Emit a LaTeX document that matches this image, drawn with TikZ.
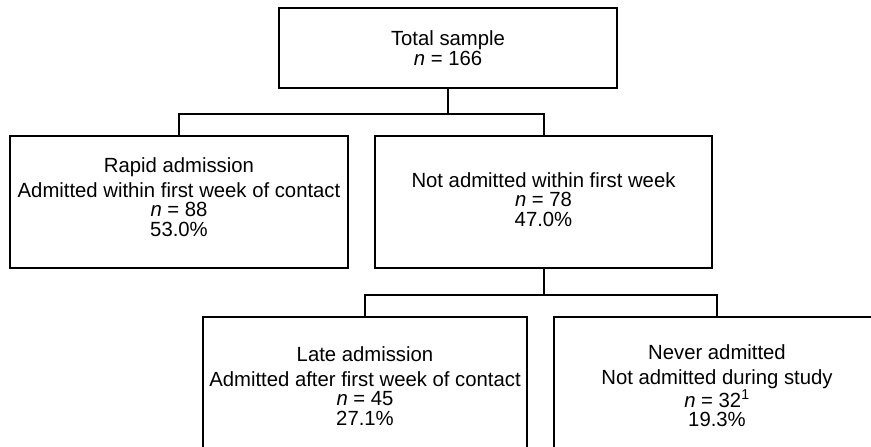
\documentclass[tikz,border=0pt]{standalone}
\usepackage{fontspec}
\setmainfont[FakeStretch=0.99]{Liberation Sans}
\usepackage{tikz}
\usetikzlibrary{positioning}
\tikzstyle{line} = [line width=2pt, color=black]
\tikzstyle{groupbox} = [rectangle, draw=black, line width=2pt, align=center, inner sep=0pt, font=\fontsize{20.5}{19.5}\selectfont]

\begin{document}
\begin{tikzpicture}[x=1pt, y=-1pt]
\clip (0,0) rectangle (871,447);
% Whole sample
\node (total) [groupbox, minimum width=338pt, minimum height=80pt] at (448,48) {Total sample\\\textit{n} = 166};

% First week split
\node (rapid) [groupbox, minimum width=338pt, minimum height=132pt, text depth=10pt] at (179,202) {Rapid admission\\[5.5pt]Admitted within first week of contact\\\textit{n} = 88\\53.0\%};
\node (notadm) [groupbox, minimum width=337pt, minimum height=132pt, text depth=5pt] at (543.5,202) {Not admitted within first week\\\textit{n} = 78\\47.0\%};

% Later outcome
\node (late) [groupbox, minimum width=324pt, minimum height=138pt] at (365,386) {Late admission\\[5.5pt]Admitted after first week of contact\\\textit{n} = 45\\27.1\%};
\node (never) [groupbox, minimum width=326pt, minimum height=138pt] at (717,386) {Never admitted\\[5.5pt]Not admitted during study\\\textit{n} = 32\textsuperscript{1}\\19.3\%};

% Connections
\draw[line] (total.south) -- ++(0,25) -| (rapid.north);
\draw[line] (total.south) -- ++(0,25) -| (notadm.north);
\draw[line] (notadm.south) -- ++(0,26) -| (late.north);
\draw[line] (notadm.south) -- ++(0,26) -| (never.north);
\end{tikzpicture}
\end{document}
